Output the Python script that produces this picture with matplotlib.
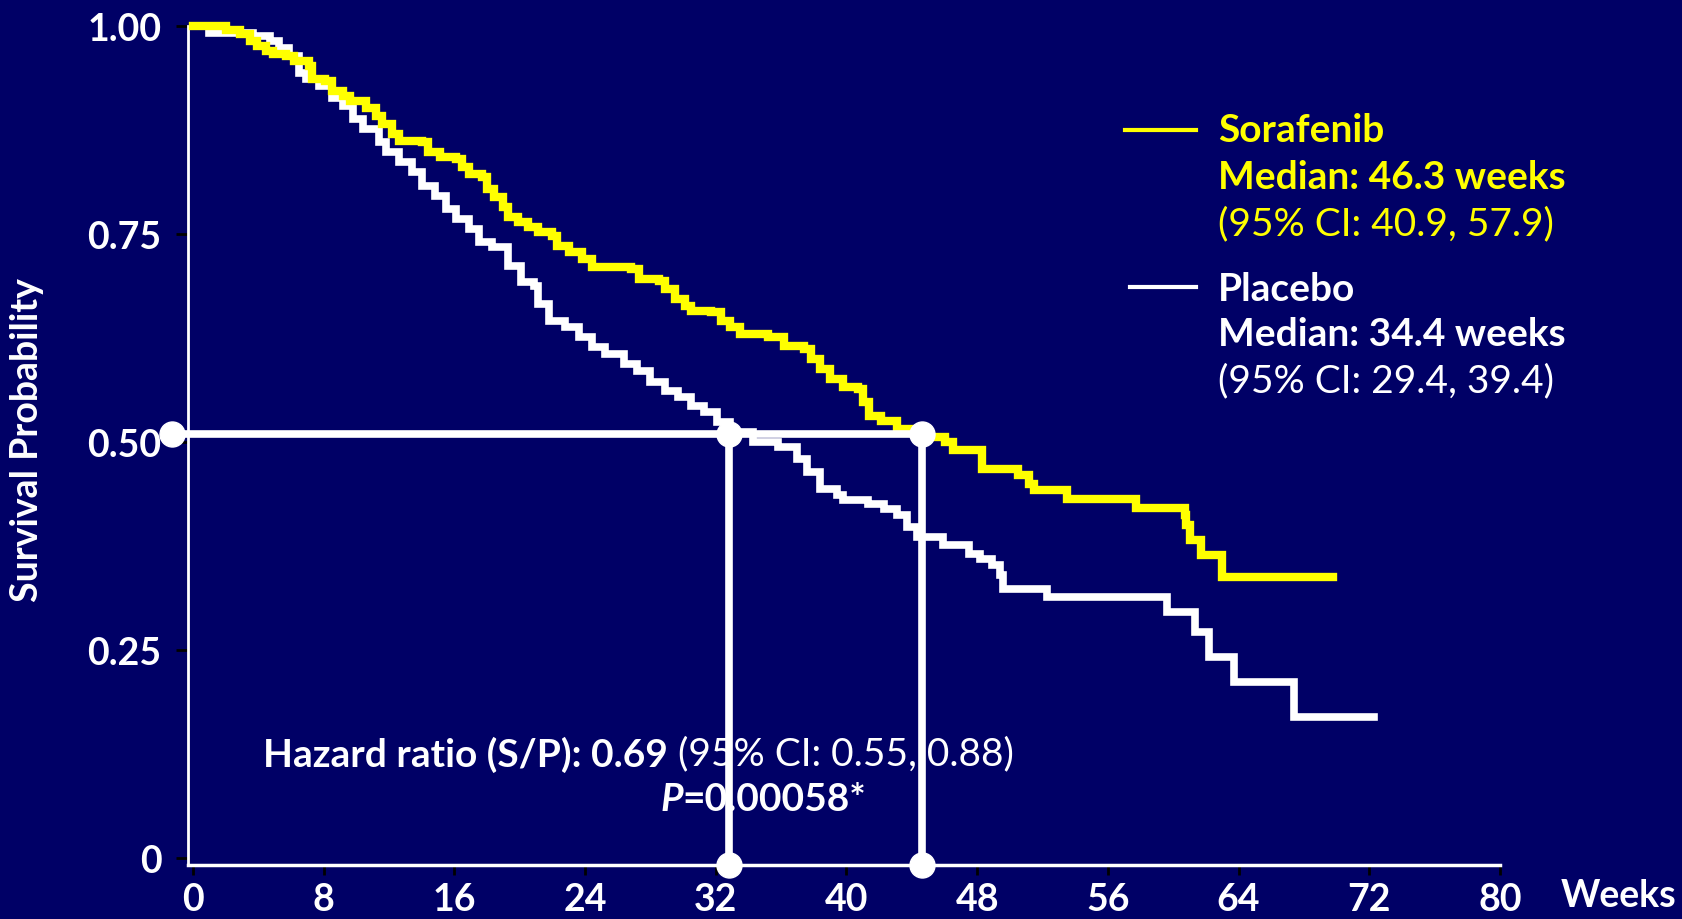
import matplotlib as mpl
import matplotlib.pyplot as plt

# colours / fonts
NAVY = '#000066'
YELLOW = '#FFFF00'
WHITE = 'white'
FS = 27      # tick labels
FS_T = 28    # legend / annotation text
mpl.rcParams['font.family'] = ['Lato', 'DejaVu Sans']
mpl.rcParams['text.color'] = WHITE

# Kaplan-Meier curves (weeks, survival probability)
sora_weeks = [0, 2.0, 2.9, 3.5, 3.9, 4.5, 4.9, 5.7, 6.2, 7.1, 7.3, 8.1, 8.5, 9.2, 9.6,
              10.6, 11.2, 11.6, 12.2, 12.6, 14.0, 14.4, 15.1, 16.1, 16.5, 16.9, 17.7,
              18.0, 18.4, 19.0, 19.3, 19.9, 20.5, 21.1, 22.0, 22.3, 23.0, 23.8, 24.4,
              26.8, 27.3, 28.5, 28.9, 29.5, 30.1, 30.5, 31.7, 32.3, 32.9, 33.5, 35.2,
              36.2, 37.4, 37.8, 38.4, 39.0, 39.8, 40.7, 41.0, 41.4, 42.1, 43.1, 44.5,
              46.0, 46.5, 48.3, 50.5, 51.2, 51.5, 53.5, 57.7, 60.7, 60.8, 61.0, 61.7,
              63.0, 69.8]
sora_surv = [1.0, .995, .990, .982, .976, .970, .966, .964, .958, .952, .936, .934, .922,
             .916, .910, .902, .892, .882, .870, .862, .860, .848, .842, .840, .830, .822,
             .818, .804, .794, .782, .770, .764, .758, .752, .748, .736, .728, .720, .710,
             .708, .696, .694, .684, .672, .664, .658, .656, .646, .638, .630, .626, .616,
             .612, .600, .588, .576, .566, .564, .548, .532, .526, .516, .506, .500, .490,
             .468, .460, .450, .442, .432, .421, .412, .400, .382, .364, .338, .338]

plac_weeks = [0, 1.0, 3.7, 4.7, 5.3, 5.9, 6.5, 6.9, 7.7, 8.5, 9.2, 9.8, 10.4, 11.4, 11.8,
              12.6, 13.4, 14.0, 14.8, 15.5, 16.1, 16.9, 17.5, 18.3, 19.3, 20.1, 20.9,
              21.1, 21.8, 22.8, 23.6, 24.4, 25.2, 26.4, 27.2, 28.0, 28.9, 29.7, 30.5,
              31.3, 32.1, 32.9, 34.3, 35.8, 37.0, 37.6, 38.4, 39.4, 39.8, 41.3, 42.3,
              43.1, 43.7, 44.3, 45.9, 47.5, 48.2, 48.9, 49.4, 49.6, 52.3, 59.6, 61.3,
              62.2, 63.7, 67.4, 72.3]
plac_surv = [1.0, .992, .988, .982, .974, .964, .944, .936, .928, .914, .904, .888, .876,
             .860, .848, .836, .824, .808, .796, .780, .768, .756, .740, .734, .712, .692,
             .688, .666, .646, .638, .626, .614, .606, .594, .586, .572, .562, .554, .544,
             .536, .524, .512, .500, .494, .480, .464, .444, .436, .430, .426, .420, .412,
             .398, .386, .376, .366, .360, .352, .340, .324, .314, .296, .272, .242, .212,
             .170, .170]

# median marker lines
median_level = 0.51
median_start = -1.3
plac_median = 32.8
sora_median = 44.6

x_ticks = list(range(0, 81, 8))
y_ticks = [0, 0.25, 0.50, 0.75, 1.00]
y_labels = ['0', '0.25', '0.50', '0.75', '1.00']
x_lim = (-0.3, 80)
y_lim = (-0.008, 1.0)

fig = plt.figure(figsize=(16.83, 9.2), dpi=100)
fig.set_facecolor(NAVY)
ax = fig.add_axes([0.1117, 0.0587, 0.7796, 0.912])
ax.set_facecolor(NAVY)

# curves
ax.plot(plac_weeks, plac_surv, drawstyle='steps-post', color=WHITE, lw=5.5,
        solid_joinstyle='miter', clip_on=False, zorder=2)
ax.plot(sora_weeks, sora_surv, drawstyle='steps-post', color=YELLOW, lw=6,
        solid_joinstyle='miter', clip_on=False, zorder=3)

# median lines + dots
ax.plot([median_start, sora_median], [median_level, median_level], color=WHITE, lw=5.5,
        clip_on=False, zorder=6)
for xm in (plac_median, sora_median):
    ax.plot([xm, xm], [median_level, y_lim[0]], color=WHITE, lw=5.5, clip_on=False, zorder=6)
    ax.plot([xm], [y_lim[0]], 'o', ms=18, color=WHITE, clip_on=False, zorder=7)
ax.plot([median_start, plac_median, sora_median], [median_level] * 3, 'o', ms=18,
        color=WHITE, clip_on=False, zorder=7)

# axes
ax.set_xlim(*x_lim)
ax.set_ylim(*y_lim)
ax.set_xticks(x_ticks)
ax.set_xticklabels([str(t) for t in x_ticks])
ax.set_yticks(y_ticks)
ax.set_yticklabels(y_labels)
for s in ['top', 'right']:
    ax.spines[s].set_visible(False)
ax.spines['left'].set_color(WHITE)
ax.spines['left'].set_linewidth(2)
ax.spines['bottom'].set_color(WHITE)
ax.spines['bottom'].set_linewidth(2.5)
ax.tick_params(axis='y', colors='black', length=9, width=2, pad=10,
               labelcolor=WHITE, labelsize=FS)
ax.tick_params(axis='x', colors='black', length=7, width=2, pad=5,
               labelcolor=WHITE, labelsize=FS)
for lab in ax.get_xticklabels() + ax.get_yticklabels():
    lab.set_fontweight('bold')

fig.text(27 / 1683, 1 - 440 / 920, 'Survival Probability', rotation=90, fontsize=FS,
         fontweight='bold', ha='center', va='center')
fig.text(1561 / 1683, 1 - 896 / 920, 'Weeks', fontsize=FS, fontweight='bold',
         ha='left', va='center')

# legend block
ax.plot([0.714, 0.768], [0.876, 0.876], color=YELLOW, lw=3, transform=ax.transAxes,
        clip_on=False)
ax.plot([0.718, 0.768], [0.689, 0.689], color=WHITE, lw=3, transform=ax.transAxes,
        clip_on=False)
lx = 0.785
ax.text(lx, 0.876, 'Sorafenib', color=YELLOW, fontsize=FS_T, fontweight='bold',
        va='center', transform=ax.transAxes)
ax.text(lx, 0.821, 'Median: 46.3 weeks', color=YELLOW, fontsize=FS_T, fontweight='bold',
        va='center', transform=ax.transAxes)
ax.text(lx, 0.765, '(95% CI: 40.9, 57.9)', color=YELLOW, fontsize=FS_T,
        va='center', transform=ax.transAxes)
ax.text(lx, 0.687, 'Placebo', color=WHITE, fontsize=FS_T, fontweight='bold',
        va='center', transform=ax.transAxes)
ax.text(lx, 0.633, 'Median: 34.4 weeks', color=WHITE, fontsize=FS_T, fontweight='bold',
        va='center', transform=ax.transAxes)
ax.text(lx, 0.578, '(95% CI: 29.4, 39.4)', color=WHITE, fontsize=FS_T,
        va='center', transform=ax.transAxes)

# hazard ratio annotation
t1 = ax.text(4.3, 0.126, 'Hazard ratio (S/P): 0.69', fontsize=FS_T, fontweight='bold',
             va='center', zorder=4)
ax.annotate(' (95% CI: 0.55, 0.88)', xy=(1, 0), xycoords=t1, fontsize=FS_T,
            va='bottom', ha='left', zorder=4)
t2 = ax.text(28.6, 0.072, 'P', fontsize=FS_T, fontweight='bold', fontstyle='italic',
             va='center', zorder=4)
ax.annotate('=0.00058*', xy=(1, 0), xycoords=t2, fontsize=FS_T, fontweight='bold',
            va='bottom', ha='left', zorder=4)

fig.savefig('out.png', facecolor=NAVY)
